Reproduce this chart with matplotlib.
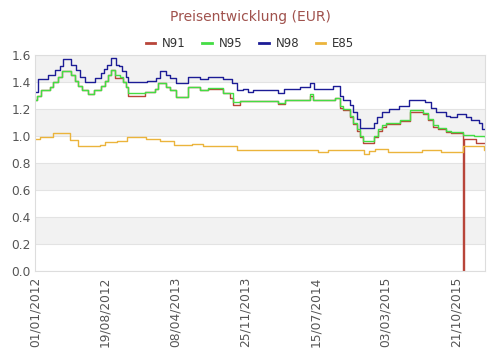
import matplotlib
matplotlib.use('Agg')
import matplotlib.pyplot as plt
import matplotlib.dates as mdates
import pandas as pd

start = pd.Timestamp('2012-01-01')

# days since 01/01/2012 and prices (EUR), step values
n98_day = [0, 10, 43, 66, 83, 92, 119, 135, 149, 165, 198, 218, 228, 238, 251, 267, 277, 287, 300, 307,
           370, 399, 413, 432, 446, 465, 505, 545, 571, 620, 650, 667, 686, 703, 719, 802, 822, 875, 908,
           921, 983, 1007, 1016, 1040, 1049, 1063, 1073, 1119, 1129, 1145, 1168, 1201, 1234, 1287, 1307,
           1323, 1356, 1370, 1393, 1422, 1439, 1465, 1475, 1485]
n98_val = [1.33, 1.42, 1.45, 1.49, 1.52, 1.57, 1.53, 1.49, 1.44, 1.40, 1.43, 1.47, 1.50, 1.53, 1.58, 1.53,
           1.52, 1.48, 1.44, 1.40, 1.41, 1.43, 1.48, 1.45, 1.43, 1.39, 1.44, 1.42, 1.44, 1.42, 1.39, 1.34,
           1.35, 1.33, 1.34, 1.32, 1.35, 1.36, 1.39, 1.35, 1.37, 1.30, 1.27, 1.23, 1.18, 1.13, 1.06, 1.10,
           1.14, 1.18, 1.20, 1.22, 1.27, 1.25, 1.21, 1.18, 1.15, 1.14, 1.16, 1.14, 1.12, 1.10, 1.05, 1.05]

n95_day = [0, 7, 20, 50, 59, 76, 89, 119, 132, 142, 155, 175, 195, 218, 231, 241, 251, 264, 281, 290, 300,
           307, 363, 396, 406, 432, 446, 465, 505, 545, 571, 620, 653, 677, 802, 825, 908, 917, 990, 1007,
           1016, 1040, 1049, 1063, 1073, 1082, 1119, 1132, 1145, 1158, 1205, 1238, 1280, 1297, 1313, 1330,
           1356, 1373, 1412, 1449, 1485]
n95_val = [1.27, 1.30, 1.34, 1.36, 1.40, 1.44, 1.48, 1.45, 1.41, 1.37, 1.34, 1.31, 1.34, 1.37, 1.41, 1.45,
           1.49, 1.45, 1.44, 1.40, 1.36, 1.32, 1.33, 1.35, 1.395, 1.36, 1.34, 1.29, 1.365, 1.34, 1.355, 1.32,
           1.25, 1.26, 1.245, 1.27, 1.31, 1.27, 1.28, 1.22, 1.20, 1.15, 1.10, 1.05, 1.00, 0.96, 1.00, 1.05,
           1.08, 1.10, 1.12, 1.19, 1.17, 1.13, 1.08, 1.06, 1.04, 1.03, 1.01, 1.00, 0.99]

n91_day = [0, 7, 20, 50, 59, 76, 89, 119, 132, 142, 155, 175, 195, 218, 231, 241, 251, 264, 290, 300,
           307, 363, 396, 406, 432, 446, 465, 505, 545, 571, 620, 644, 653, 677, 802, 825, 908, 917, 990,
           1007, 1016, 1040, 1049, 1063, 1073, 1082, 1119, 1132, 1145, 1158, 1205, 1238, 1280, 1297, 1313,
           1330, 1356, 1373, 1412, 1416, 1455, 1485]
n91_val = [1.27, 1.30, 1.34, 1.36, 1.40, 1.44, 1.48, 1.45, 1.41, 1.37, 1.34, 1.31, 1.34, 1.37, 1.41, 1.45,
           1.49, 1.43, 1.40, 1.36, 1.30, 1.33, 1.35, 1.39, 1.36, 1.34, 1.29, 1.36, 1.34, 1.35, 1.32, 1.28,
           1.23, 1.26, 1.24, 1.27, 1.30, 1.27, 1.28, 1.21, 1.19, 1.14, 1.09, 1.04, 0.99, 0.95, 0.99, 1.04,
           1.07, 1.09, 1.11, 1.18, 1.16, 1.12, 1.07, 1.05, 1.03, 1.02, 0.0, 0.98, 0.95, 0.95]

e85_day = [0, 17, 59, 116, 142, 215, 231, 271, 304, 366, 386, 413, 459, 518, 554, 647, 667, 710, 782, 934,
           967, 1086, 1102, 1122, 1165, 1277, 1340, 1412, 1482, 1485]
e85_val = [0.98, 0.99, 1.02, 0.97, 0.925, 0.935, 0.955, 0.965, 0.99, 0.975, 0.98, 0.965, 0.935, 0.945, 0.93,
           0.925, 0.90, 0.895, 0.90, 0.885, 0.90, 0.87, 0.89, 0.905, 0.885, 0.895, 0.88, 0.93, 0.90, 0.90]

series = [('N91', n91_day, n91_val, '#b8453a'),
          ('N95', n95_day, n95_val, '#44dd44'),
          ('N98', n98_day, n98_val, '#1c1c96'),
          ('E85', e85_day, e85_val, '#ebb43c')]

tick_dates = ['2012-01-01', '2012-08-19', '2013-04-08', '2013-11-25',
              '2014-07-15', '2015-03-03', '2015-10-21']

fig = plt.figure(figsize=(5, 3.6), dpi=100)
ax = fig.add_axes([0.07, 0.247, 0.9, 0.6])

# alternating bands
for i in range(8):
    if i % 2 == 1:
        ax.axhspan(i * 0.2, (i + 1) * 0.2, color='#f2f2f2', zorder=0, lw=0)
for i in range(9):
    ax.axhline(i * 0.2, color='#e3e3e3', lw=0.8, zorder=0.5)

for name, d, v, c in series:
    dates = start + pd.to_timedelta(d, unit='D')
    ax.step(dates, v, where='post', color=c, lw=1.0, label=name, zorder=2)

ax.set_ylim(0, 1.6)
ax.set_xlim(start, start + pd.Timedelta(days=1485))
ax.set_yticks([i * 0.2 for i in range(9)])
ax.set_yticklabels(['%.1f' % (i * 0.2) for i in range(9)])
ax.set_xticks(pd.to_datetime(tick_dates))
ax.xaxis.set_major_formatter(mdates.DateFormatter('%d/%m/%Y'))
plt.setp(ax.get_xticklabels(), rotation=90)
ax.tick_params(labelsize=8.8, colors='#555555', length=0, pad=3)
ax.tick_params(axis='x', pad=4)
for s in ax.spines.values():
    s.set_color('#dddddd')
    s.set_linewidth(0.8)

fig.text(0.5, 0.953, 'Preisentwicklung (EUR)', ha='center', va='center', fontsize=10, color='#a0524d')
leg = fig.legend(loc='center', bbox_to_anchor=(0.5, 0.878), ncol=4, frameon=False, fontsize=8.5,
                 handlelength=0.8, handletextpad=0.6, columnspacing=1.4, labelcolor='#333333')
for line in leg.get_lines():
    line.set_linewidth(2.0)

fig.savefig('out.png', dpi=100)
